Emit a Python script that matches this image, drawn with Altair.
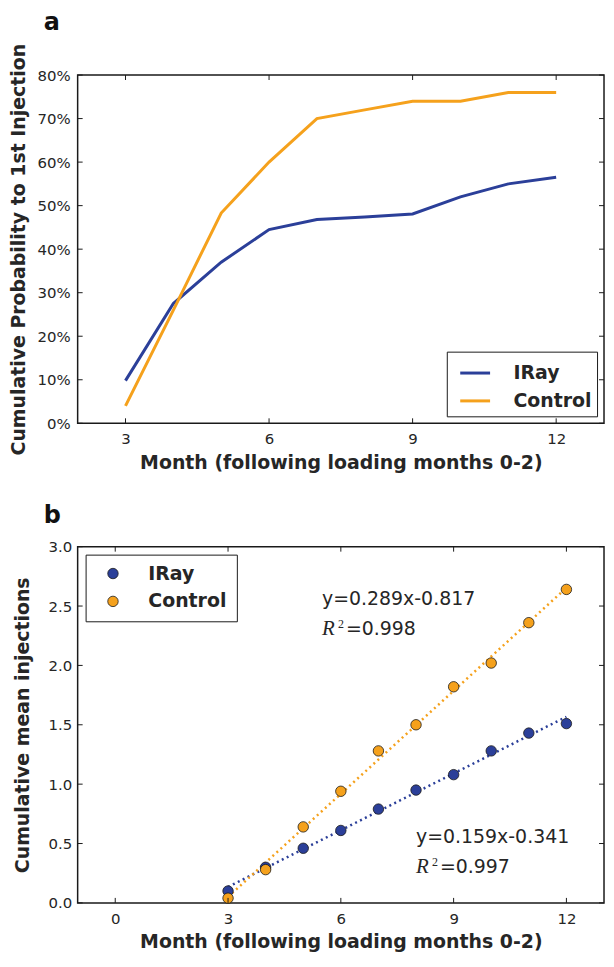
import altair as alt
import pandas as pd

# ---------------- data ----------------
months = [3, 4, 5, 6, 7, 8, 9, 10, 11, 12]
groups = ["IRay", "Control"]
colors = ["#2b3f99", "#f5a11c"]

# panel a: cumulative probability to 1st injection (%)
iray_prob = [9.8, 27.5, 37.0, 44.5, 46.8, 47.4, 48.1, 52.0, 55.0, 56.5]
control_prob = [4.0, 26.0, 48.3, 60.0, 70.0, 72.0, 74.0, 74.0, 76.0, 76.0]

# panel b: cumulative mean injections
iray_inj = [0.10, 0.30, 0.46, 0.61, 0.79, 0.95, 1.08, 1.28, 1.43, 1.51]
control_inj = [0.04, 0.28, 0.64, 0.94, 1.28, 1.50, 1.82, 2.02, 2.36, 2.64]

# fit annotations
eq_texts = ["y=0.289x-0.817", "y=0.159x-0.341"]
r2_texts = ["=0.998", "=0.997"]
ann_x = [5.5, 8.0]
eq_y = [2.56, 0.553]
r2_y = [2.31, 0.304]

# tick values
xa_vals = [3, 6, 9, 12]
ya_vals = [0, 10, 20, 30, 40, 50, 60, 70, 80]
xb_vals = [0, 3, 6, 9, 12]
yb_vals = [0, 0.5, 1.0, 1.5, 2.0, 2.5, 3.0]

dfa = pd.DataFrame({
    "Month": months * 2,
    "Prob": iray_prob + control_prob,
    "Group": ["IRay"] * len(months) + ["Control"] * len(months),
})
dfb = pd.DataFrame({
    "Month": months * 2,
    "Inj": iray_inj + control_inj,
    "Group": ["IRay"] * len(months) + ["Control"] * len(months),
})
dfann = pd.DataFrame({"x": ann_x, "ey": eq_y, "ry": r2_y, "eq": eq_texts, "r2": r2_texts})

FONT = "DejaVu Sans"
TXT = "#262626"
FRAME = "#1a1a1a"

WA, HA = 529, 350
WB, HB = 529, 358
TICK = 5


def ax(**kw):
    base = dict(domain=False, ticks=False, tickSize=0, grid=False,
                labelFont=FONT, labelFontSize=15, labelColor=TXT,
                titleFont=FONT, titleFontWeight="bold", titleFontSize=19, titleColor=TXT)
    base.update(kw)
    return alt.Axis(**base)


def inner_ticks(xvals, yvals, xs, ys, W, H):
    dx = pd.DataFrame({"v": xvals})
    dy = pd.DataFrame({"v": yvals})
    r = dict(color=FRAME, strokeWidth=1)
    bottom = alt.Chart(dx).mark_rule(**r).encode(
        x=alt.X("v:Q", scale=xs, axis=None), y=alt.value(H), y2=alt.value(H - TICK))
    top = alt.Chart(dx).mark_rule(**r).encode(
        x=alt.X("v:Q", scale=xs, axis=None), y=alt.value(0), y2=alt.value(TICK))
    left = alt.Chart(dy).mark_rule(**r).encode(
        y=alt.Y("v:Q", scale=ys, axis=None), x=alt.value(0), x2=alt.value(TICK))
    right = alt.Chart(dy).mark_rule(**r).encode(
        y=alt.Y("v:Q", scale=ys, axis=None), x=alt.value(W), x2=alt.value(W - TICK))
    return [bottom, top, left, right]


# ---------------- panel a ----------------
xs_a = alt.Scale(domain=[2, 13], nice=False, zero=False)
ys_a = alt.Scale(domain=[0, 80], nice=False)

lines_a = alt.Chart(dfa).mark_line(strokeWidth=3).encode(
    x=alt.X("Month:Q", scale=xs_a,
            axis=ax(values=xa_vals, title="Month (following loading months 0-2)",
                    labelPadding=8, titlePadding=7)),
    y=alt.Y("Prob:Q", scale=ys_a,
            axis=ax(values=ya_vals, labelExpr="datum.value + '%'",
                    title="Cumulative Probability to 1st Injection",
                    labelPadding=7.5, titlePadding=9)),
    color=alt.Color("Group:N", sort=groups,
                    scale=alt.Scale(domain=groups, range=colors),
                    legend=alt.Legend(title=None, orient="bottom-right", offset=7,
                                      symbolType="stroke", symbolStrokeWidth=3,
                                      symbolSize=900, symbolOffset=7,
                                      labelFont=FONT, labelFontSize=19,
                                      labelFontWeight="bold", labelColor=TXT,
                                      labelOffset=22, rowPadding=1,
                                      strokeColor=FRAME, fillColor="white",
                                      padding=5, cornerRadius=0)),
)

label_a = alt.Chart(pd.DataFrame({"t": ["a"]})).mark_text(
    font=FONT, fontWeight="bold", fontSize=24, align="left", baseline="alphabetic", color="#111"
).encode(text="t:N", x=alt.value(-34), y=alt.value(-45))

panel_a = alt.layer(
    lines_a, *inner_ticks(xa_vals, ya_vals, xs_a, ys_a, WA, HA), label_a
).resolve_axis(x="independent", y="independent").properties(width=WA, height=HA)

# ---------------- panel b ----------------
xs_b = alt.Scale(domain=[-1, 13], nice=False, zero=False)
ys_b = alt.Scale(domain=[0, 3], nice=False)

fit_b = alt.Chart(dfb).transform_regression(
    "Month", "Inj", groupby=["Group"], extent=[3, 12]
).mark_line(strokeWidth=2.5, strokeDash=[2, 3.5]).encode(
    x=alt.X("Month:Q", scale=xs_b, axis=None),
    y=alt.Y("Inj:Q", scale=ys_b, axis=None),
    stroke=alt.Stroke("Group:N", sort=groups, scale=alt.Scale(domain=groups, range=colors), legend=None),
)

pts_b = alt.Chart(dfb).mark_point(filled=True, size=110, stroke=FRAME, strokeWidth=0.8, opacity=1).encode(
    x=alt.X("Month:Q", scale=xs_b,
            axis=ax(values=xb_vals, title="Month (following loading months 0-2)",
                    labelPadding=9, titlePadding=6)),
    y=alt.Y("Inj:Q", scale=ys_b,
            axis=ax(values=yb_vals, format=".1f", title="Cumulative mean injections",
                    labelPadding=6, titlePadding=16)),
    color=alt.Color("Group:N", sort=groups,
                    scale=alt.Scale(domain=groups, range=colors),
                    legend=alt.Legend(title=None, orient="top-left", offset=8,
                                      symbolType="circle", symbolSize=110,
                                      symbolStrokeColor=FRAME, symbolStrokeWidth=0.8,
                                      symbolOffset=8.5,
                                      labelFont=FONT, labelFontSize=19,
                                      labelFontWeight="bold", labelColor=TXT,
                                      labelOffset=26, rowPadding=8,
                                      strokeColor=FRAME, fillColor="white",
                                      padding=9.5, cornerRadius=0)),
)

eq_b = alt.Chart(dfann).mark_text(font=FONT, fontSize=19, align="left", baseline="middle", color=TXT).encode(
    x=alt.X("x:Q", scale=xs_b, axis=None), y=alt.Y("ey:Q", scale=ys_b, axis=None), text="eq:N")
rR_b = alt.Chart(dfann).mark_text(font="Liberation Serif", fontStyle="italic", fontSize=21,
                                  align="left", baseline="middle", color=TXT).encode(
    x=alt.X("x:Q", scale=xs_b, axis=None), y=alt.Y("ry:Q", scale=ys_b, axis=None), text=alt.value("R"))
r2sup_b = alt.Chart(dfann).mark_text(font="Liberation Serif", fontSize=12, align="left",
                                     baseline="middle", color=TXT, dx=16, dy=-5).encode(
    x=alt.X("x:Q", scale=xs_b, axis=None), y=alt.Y("ry:Q", scale=ys_b, axis=None), text=alt.value("2"))
r2_b = alt.Chart(dfann).mark_text(font=FONT, fontSize=19, align="left", baseline="middle",
                                  color=TXT, dx=24).encode(
    x=alt.X("x:Q", scale=xs_b, axis=None), y=alt.Y("ry:Q", scale=ys_b, axis=None), text="r2:N")

label_b = alt.Chart(pd.DataFrame({"t": ["b"]})).mark_text(
    font=FONT, fontWeight="bold", fontSize=24, align="left", baseline="alphabetic", color="#111"
).encode(text="t:N", x=alt.value(-34), y=alt.value(-24))

panel_b = alt.layer(
    fit_b, pts_b, *inner_ticks(xb_vals, yb_vals, xs_b, ys_b, WB, HB),
    eq_b, rR_b, r2sup_b, r2_b, label_b
).resolve_axis(x="independent", y="independent").properties(width=WB, height=HB)

chart = alt.vconcat(panel_a, panel_b, spacing=124, bounds="flush").properties(
    padding={"left": 0, "top": 0, "right": 0, "bottom": 0}
).configure(background="white").configure_view(stroke=FRAME, strokeWidth=1.5)

chart.save("out.html", embed_options={"renderer": "svg", "actions": False})
